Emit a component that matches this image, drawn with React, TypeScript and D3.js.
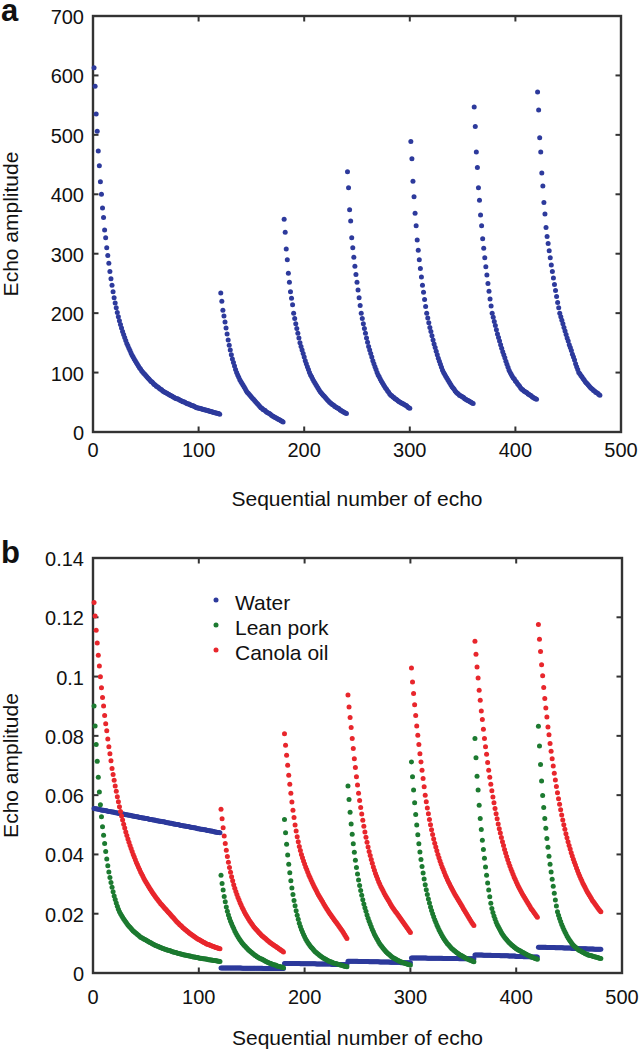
import React from "react";
import * as d3 from "d3";

// ---------- shared ----------
const echoStarts = [1, 121, 181, 241, 301, 361, 421];
const xTicks = [0, 100, 200, 300, 400, 500];
const xTickLabels = ["0", "100", "200", "300", "400", "500"];

// ---------- panel a : echo amplitude ----------
const aYTicks = [0, 100, 200, 300, 400, 500, 600, 700];
const aYTickLabels = ["0", "100", "200", "300", "400", "500", "600", "700"];

const aSeg1 = [
  613, 582, 535, 506, 473, 448, 421, 400, 377, 361,
  340, 327, 310, 297, 284, 270, 258, 247, 236, 226,
  217, 209, 201, 194, 187, 181, 175, 169, 164, 159,
  154, 149, 145, 141, 137, 133, 129, 126, 123, 120,
  117, 114, 111, 108, 106, 103, 101, 99, 97, 95,
  93, 91, 89, 87, 85, 84, 82, 80, 79, 77,
  76, 75, 73, 72, 71, 69, 68, 67, 66, 65,
  64, 63, 62, 61, 60, 59, 58, 57, 56, 56,
  55, 54, 53, 52, 51, 51, 50, 49, 48, 47,
  47, 46, 45, 44, 44, 43, 42, 41, 41, 40,
  40, 39, 39, 38, 38, 37, 37, 36, 36, 35,
  35, 34, 34, 33, 33, 32, 32, 31, 31, 30,
];
const aSeg2 = [234, 220, 205, 195, 185, 175, 165, 155, 146, 138, 130, 123, 117, 111, 105, 100, 96, 92, 88, 85, 82, 79, 76, 73, 70, 67, 65, 63, 61, 59, 57, 55, 53, 51, 49, 47, 45, 43, 41, 40, 38, 37, 36, 34, 33, 32, 31, 30, 28, 27, 26, 25, 24, 23, 22, 21, 20, 19, 18, 17];
const aSeg3 = [358, 336, 308, 290, 267, 252, 236, 225, 214, 200, 191, 182, 174, 166, 158, 150, 144, 138, 132, 126, 120, 115, 110, 105, 100, 96, 93, 89, 86, 83, 80, 77, 74, 71, 68, 66, 64, 62, 60, 58, 56, 54, 52, 50, 49, 47, 46, 45, 43, 42, 41, 40, 39, 37, 36, 35, 34, 33, 32, 31];
const aSeg4 = [438, 411, 374, 355, 327, 310, 294, 279, 265, 252, 239, 226, 213, 200, 191, 182, 174, 166, 158, 151, 144, 138, 132, 126, 120, 115, 110, 105, 100, 96, 93, 89, 86, 83, 80, 77, 74, 72, 69, 67, 64, 62, 61, 59, 58, 56, 55, 54, 52, 51, 50, 49, 48, 47, 46, 45, 44, 42, 41, 40];
const aSeg5 = [489, 460, 422, 396, 368, 347, 323, 306, 290, 275, 261, 247, 235, 223, 211, 200, 192, 184, 176, 169, 162, 155, 148, 142, 136, 130, 124, 119, 114, 109, 104, 100, 97, 94, 91, 88, 85, 82, 79, 76, 74, 72, 69, 67, 65, 64, 62, 61, 60, 59, 58, 56, 55, 54, 53, 52, 51, 50, 49, 48];
const aSeg6 = [547, 514, 471, 445, 411, 390, 365, 347, 325, 309, 293, 278, 264, 250, 237, 224, 212, 200, 193, 186, 179, 172, 165, 159, 153, 147, 141, 135, 130, 125, 119, 114, 109, 104, 100, 97, 94, 91, 89, 86, 84, 81, 79, 77, 74, 72, 71, 69, 68, 67, 66, 64, 63, 62, 61, 59, 58, 57, 56, 55];
const aSeg7 = [572, 542, 495, 471, 436, 414, 386, 367, 344, 329, 317, 305, 293, 281, 270, 259, 248, 238, 228, 218, 209, 200, 194, 188, 182, 176, 170, 164, 158, 153, 147, 142, 137, 131, 126, 121, 115, 110, 105, 100, 98, 95, 93, 90, 88, 85, 83, 81, 79, 77, 75, 73, 72, 70, 69, 67, 66, 65, 63, 62];

// ---------- panel b : three samples ----------
const bYTicks = [0, 0.02, 0.04, 0.06, 0.08, 0.1, 0.12, 0.14];
const bYTickLabels = ["0", "0.02", "0.04", "0.06", "0.08", "0.1", "0.12", "0.14"];
const legendNames = ["Water", "Lean pork", "Canola oil"];

const waterSeg1 = [
  0.0555, 0.0554, 0.0554, 0.0553, 0.0552, 0.0552, 0.0551, 0.0550, 0.0549, 0.0549,
  0.0548, 0.0547, 0.0547, 0.0546, 0.0545, 0.0545, 0.0544, 0.0543, 0.0543, 0.0542,
  0.0541, 0.0541, 0.0540, 0.0539, 0.0538, 0.0538, 0.0537, 0.0536, 0.0536, 0.0535,
  0.0534, 0.0534, 0.0533, 0.0532, 0.0532, 0.0531, 0.0530, 0.0530, 0.0529, 0.0528,
  0.0527, 0.0527, 0.0526, 0.0525, 0.0525, 0.0524, 0.0523, 0.0523, 0.0522, 0.0521,
  0.0521, 0.0520, 0.0519, 0.0518, 0.0518, 0.0517, 0.0516, 0.0516, 0.0515, 0.0514,
  0.0514, 0.0513, 0.0512, 0.0512, 0.0511, 0.0510, 0.0510, 0.0509, 0.0508, 0.0507,
  0.0507, 0.0506, 0.0505, 0.0505, 0.0504, 0.0503, 0.0503, 0.0502, 0.0501, 0.0501,
  0.0500, 0.0499, 0.0498, 0.0498, 0.0497, 0.0496, 0.0496, 0.0495, 0.0494, 0.0494,
  0.0493, 0.0492, 0.0492, 0.0491, 0.0490, 0.0490, 0.0489, 0.0488, 0.0487, 0.0487,
  0.0486, 0.0485, 0.0485, 0.0484, 0.0483, 0.0483, 0.0482, 0.0481, 0.0481, 0.0480,
  0.0479, 0.0479, 0.0478, 0.0477, 0.0476, 0.0476, 0.0475, 0.0474, 0.0474, 0.0473,
];
const waterSeg2 = [
  0.0017, 0.0017, 0.0017, 0.0017, 0.0017, 0.0017, 0.0017, 0.0017, 0.0017, 0.0017,
  0.0017, 0.0017, 0.0017, 0.0017, 0.0017, 0.0017, 0.0017, 0.0017, 0.0017, 0.0017,
  0.0016, 0.0016, 0.0016, 0.0016, 0.0016, 0.0016, 0.0016, 0.0016, 0.0016, 0.0016,
  0.0016, 0.0016, 0.0016, 0.0016, 0.0016, 0.0016, 0.0016, 0.0016, 0.0016, 0.0016,
  0.0015, 0.0015, 0.0015, 0.0015, 0.0015, 0.0015, 0.0015, 0.0015, 0.0015, 0.0015,
  0.0015, 0.0015, 0.0015, 0.0015, 0.0015, 0.0015, 0.0015, 0.0015, 0.0015, 0.0015,
];
const waterSeg3 = [
  0.0032, 0.0032, 0.0032, 0.0032, 0.0032, 0.0032, 0.0032, 0.0032, 0.0032, 0.0032,
  0.0032, 0.0032, 0.0032, 0.0032, 0.0032, 0.0031, 0.0031, 0.0031, 0.0031, 0.0031,
  0.0031, 0.0031, 0.0031, 0.0031, 0.0031, 0.0031, 0.0031, 0.0031, 0.0031, 0.0031,
  0.0030, 0.0030, 0.0030, 0.0030, 0.0030, 0.0030, 0.0030, 0.0030, 0.0030, 0.0030,
  0.0030, 0.0030, 0.0030, 0.0030, 0.0030, 0.0029, 0.0029, 0.0029, 0.0029, 0.0029,
  0.0029, 0.0029, 0.0029, 0.0029, 0.0029, 0.0029, 0.0029, 0.0029, 0.0029, 0.0029,
];
const waterSeg4 = [
  0.0040, 0.0040, 0.0040, 0.0040, 0.0040, 0.0040, 0.0040, 0.0040, 0.0040, 0.0040,
  0.0039, 0.0039, 0.0039, 0.0039, 0.0039, 0.0039, 0.0039, 0.0039, 0.0039, 0.0039,
  0.0038, 0.0038, 0.0038, 0.0038, 0.0038, 0.0038, 0.0038, 0.0038, 0.0038, 0.0038,
  0.0037, 0.0037, 0.0037, 0.0037, 0.0037, 0.0037, 0.0037, 0.0037, 0.0037, 0.0037,
  0.0036, 0.0036, 0.0036, 0.0036, 0.0036, 0.0036, 0.0036, 0.0036, 0.0036, 0.0036,
  0.0035, 0.0035, 0.0035, 0.0035, 0.0035, 0.0035, 0.0035, 0.0035, 0.0035, 0.0035,
];
const waterSeg5 = [
  0.0051, 0.0051, 0.0051, 0.0051, 0.0051, 0.0051, 0.0051, 0.0051, 0.0051, 0.0051,
  0.0051, 0.0051, 0.0051, 0.0051, 0.0051, 0.0050, 0.0050, 0.0050, 0.0050, 0.0050,
  0.0050, 0.0050, 0.0050, 0.0050, 0.0050, 0.0050, 0.0050, 0.0050, 0.0050, 0.0050,
  0.0049, 0.0049, 0.0049, 0.0049, 0.0049, 0.0049, 0.0049, 0.0049, 0.0049, 0.0049,
  0.0049, 0.0049, 0.0049, 0.0049, 0.0049, 0.0048, 0.0048, 0.0048, 0.0048, 0.0048,
  0.0048, 0.0048, 0.0048, 0.0048, 0.0048, 0.0048, 0.0048, 0.0048, 0.0048, 0.0048,
];
const waterSeg6 = [
  0.0061, 0.0061, 0.0061, 0.0061, 0.0061, 0.0061, 0.0061, 0.0061, 0.0060, 0.0060,
  0.0060, 0.0060, 0.0060, 0.0060, 0.0060, 0.0060, 0.0059, 0.0059, 0.0059, 0.0059,
  0.0059, 0.0059, 0.0059, 0.0059, 0.0058, 0.0058, 0.0058, 0.0058, 0.0058, 0.0058,
  0.0058, 0.0058, 0.0057, 0.0057, 0.0057, 0.0057, 0.0057, 0.0057, 0.0057, 0.0056,
  0.0056, 0.0056, 0.0056, 0.0056, 0.0056, 0.0056, 0.0055, 0.0055, 0.0055, 0.0055,
  0.0055, 0.0055, 0.0055, 0.0054, 0.0054, 0.0054, 0.0054, 0.0054, 0.0054, 0.0054,
];
const waterSeg7 = [
  0.0087, 0.0087, 0.0087, 0.0087, 0.0087, 0.0087, 0.0087, 0.0087, 0.0086, 0.0086,
  0.0086, 0.0086, 0.0086, 0.0086, 0.0086, 0.0086, 0.0085, 0.0085, 0.0085, 0.0085,
  0.0085, 0.0085, 0.0085, 0.0085, 0.0084, 0.0084, 0.0084, 0.0084, 0.0084, 0.0084,
  0.0084, 0.0084, 0.0083, 0.0083, 0.0083, 0.0083, 0.0083, 0.0083, 0.0083, 0.0082,
  0.0082, 0.0082, 0.0082, 0.0082, 0.0082, 0.0082, 0.0081, 0.0081, 0.0081, 0.0081,
  0.0081, 0.0081, 0.0081, 0.0080, 0.0080, 0.0080, 0.0080, 0.0080, 0.0080, 0.0080,
];

const porkSeg1 = [
  0.0901, 0.0833, 0.0771, 0.0714, 0.0660, 0.0611, 0.0568, 0.0527, 0.0493, 0.0465,
  0.0437, 0.0410, 0.0385, 0.0362, 0.0341, 0.0322, 0.0305, 0.0289, 0.0274, 0.0260,
  0.0248, 0.0236, 0.0225, 0.0215, 0.0207, 0.0200, 0.0194, 0.0188, 0.0182, 0.0177,
  0.0172, 0.0167, 0.0162, 0.0158, 0.0154, 0.0150, 0.0146, 0.0142, 0.0139, 0.0136,
  0.0133, 0.0130, 0.0127, 0.0124, 0.0121, 0.0119, 0.0117, 0.0115, 0.0113, 0.0111,
  0.0109, 0.0107, 0.0105, 0.0103, 0.0101, 0.0099, 0.0097, 0.0095, 0.0093, 0.0092,
  0.0090, 0.0089, 0.0087, 0.0086, 0.0084, 0.0083, 0.0082, 0.0080, 0.0079, 0.0078,
  0.0077, 0.0076, 0.0075, 0.0073, 0.0072, 0.0071, 0.0070, 0.0069, 0.0068, 0.0067,
  0.0066, 0.0065, 0.0064, 0.0063, 0.0062, 0.0061, 0.0061, 0.0060, 0.0059, 0.0058,
  0.0057, 0.0057, 0.0056, 0.0055, 0.0054, 0.0054, 0.0053, 0.0052, 0.0052, 0.0051,
  0.0050, 0.0050, 0.0049, 0.0048, 0.0048, 0.0047, 0.0047, 0.0046, 0.0045, 0.0045,
  0.0044, 0.0044, 0.0043, 0.0042, 0.0042, 0.0041, 0.0041, 0.0040, 0.0040, 0.0039,
];
const porkSeg2 = [
  0.0330, 0.0302, 0.0280, 0.0258, 0.0240, 0.0223, 0.0208, 0.0196, 0.0185, 0.0175,
  0.0166, 0.0158, 0.0150, 0.0142, 0.0135, 0.0128, 0.0122, 0.0116, 0.0111, 0.0106,
  0.0101, 0.0097, 0.0093, 0.0089, 0.0085, 0.0082, 0.0078, 0.0075, 0.0072, 0.0069,
  0.0066, 0.0063, 0.0060, 0.0058, 0.0055, 0.0053, 0.0051, 0.0049, 0.0047, 0.0046,
  0.0044, 0.0042, 0.0040, 0.0038, 0.0036, 0.0035, 0.0033, 0.0032, 0.0030, 0.0029,
  0.0028, 0.0027, 0.0026, 0.0024, 0.0023, 0.0022, 0.0021, 0.0020, 0.0019, 0.0018,
];
const porkSeg3 = [
  0.0518, 0.0473, 0.0434, 0.0398, 0.0367, 0.0338, 0.0311, 0.0287, 0.0265, 0.0245,
  0.0227, 0.0210, 0.0195, 0.0181, 0.0168, 0.0157, 0.0147, 0.0138, 0.0130, 0.0122,
  0.0115, 0.0109, 0.0103, 0.0098, 0.0093, 0.0088, 0.0084, 0.0080, 0.0076, 0.0072,
  0.0069, 0.0066, 0.0063, 0.0060, 0.0057, 0.0055, 0.0052, 0.0050, 0.0048, 0.0046,
  0.0044, 0.0042, 0.0040, 0.0039, 0.0037, 0.0036, 0.0034, 0.0033, 0.0032, 0.0031,
  0.0030, 0.0029, 0.0028, 0.0027, 0.0026, 0.0025, 0.0024, 0.0023, 0.0022, 0.0021,
];
const porkSeg4 = [
  0.0631, 0.0585, 0.0542, 0.0503, 0.0468, 0.0436, 0.0407, 0.0380, 0.0356, 0.0334,
  0.0314, 0.0295, 0.0278, 0.0262, 0.0247, 0.0233, 0.0220, 0.0208, 0.0196, 0.0185,
  0.0175, 0.0165, 0.0156, 0.0147, 0.0139, 0.0131, 0.0124, 0.0117, 0.0111, 0.0105,
  0.0099, 0.0094, 0.0089, 0.0084, 0.0080, 0.0076, 0.0072, 0.0068, 0.0065, 0.0062,
  0.0059, 0.0056, 0.0053, 0.0051, 0.0049, 0.0047, 0.0045, 0.0043, 0.0041, 0.0039,
  0.0038, 0.0036, 0.0035, 0.0034, 0.0033, 0.0031, 0.0030, 0.0029, 0.0028, 0.0027,
];
const porkSeg5 = [
  0.0712, 0.0662, 0.0617, 0.0574, 0.0535, 0.0499, 0.0466, 0.0436, 0.0408, 0.0383,
  0.0359, 0.0337, 0.0317, 0.0298, 0.0281, 0.0265, 0.0250, 0.0236, 0.0223, 0.0211,
  0.0200, 0.0190, 0.0180, 0.0171, 0.0162, 0.0154, 0.0146, 0.0139, 0.0132, 0.0126,
  0.0120, 0.0114, 0.0109, 0.0104, 0.0099, 0.0095, 0.0091, 0.0087, 0.0083, 0.0080,
  0.0077, 0.0074, 0.0071, 0.0068, 0.0066, 0.0063, 0.0061, 0.0059, 0.0057, 0.0055,
  0.0053, 0.0051, 0.0049, 0.0047, 0.0046, 0.0044, 0.0043, 0.0041, 0.0040, 0.0038,
];
const porkSeg6 = [
  0.0791, 0.0726, 0.0664, 0.0617, 0.0566, 0.0521, 0.0484, 0.0448, 0.0417, 0.0387,
  0.0358, 0.0330, 0.0304, 0.0280, 0.0257, 0.0235, 0.0218, 0.0204, 0.0192, 0.0182,
  0.0172, 0.0164, 0.0157, 0.0150, 0.0143, 0.0137, 0.0131, 0.0126, 0.0121, 0.0116,
  0.0112, 0.0108, 0.0104, 0.0100, 0.0097, 0.0094, 0.0091, 0.0088, 0.0085, 0.0082,
  0.0080, 0.0078, 0.0076, 0.0074, 0.0072, 0.0070, 0.0068, 0.0066, 0.0064, 0.0062,
  0.0060, 0.0058, 0.0057, 0.0055, 0.0054, 0.0052, 0.0051, 0.0049, 0.0048, 0.0046,
];
const porkSeg7 = [
  0.0832, 0.0766, 0.0703, 0.0648, 0.0599, 0.0558, 0.0521, 0.0488, 0.0454, 0.0424,
  0.0394, 0.0367, 0.0341, 0.0316, 0.0293, 0.0269, 0.0246, 0.0226, 0.0207, 0.0195,
  0.0184, 0.0174, 0.0164, 0.0155, 0.0147, 0.0139, 0.0132, 0.0125, 0.0119, 0.0113,
  0.0108, 0.0103, 0.0098, 0.0094, 0.0090, 0.0087, 0.0084, 0.0081, 0.0078, 0.0076,
  0.0074, 0.0072, 0.0070, 0.0068, 0.0066, 0.0064, 0.0063, 0.0061, 0.0060, 0.0059,
  0.0058, 0.0057, 0.0056, 0.0055, 0.0054, 0.0053, 0.0052, 0.0051, 0.0050, 0.0049,
];

const oilSeg1 = [
  0.1250, 0.1204, 0.1156, 0.1113, 0.1072, 0.1036, 0.0999, 0.0962, 0.0929, 0.0901,
  0.0869, 0.0841, 0.0817, 0.0789, 0.0763, 0.0740, 0.0716, 0.0690, 0.0670, 0.0650,
  0.0631, 0.0613, 0.0595, 0.0578, 0.0561, 0.0545, 0.0530, 0.0516, 0.0502, 0.0489,
  0.0476, 0.0464, 0.0452, 0.0441, 0.0430, 0.0420, 0.0410, 0.0400, 0.0391, 0.0382,
  0.0373, 0.0365, 0.0357, 0.0349, 0.0341, 0.0334, 0.0327, 0.0320, 0.0313, 0.0307,
  0.0301, 0.0295, 0.0289, 0.0283, 0.0278, 0.0272, 0.0267, 0.0262, 0.0257, 0.0252,
  0.0248, 0.0243, 0.0239, 0.0234, 0.0230, 0.0226, 0.0222, 0.0218, 0.0214, 0.0210,
  0.0206, 0.0202, 0.0198, 0.0194, 0.0190, 0.0186, 0.0182, 0.0178, 0.0174, 0.0170,
  0.0167, 0.0163, 0.0160, 0.0157, 0.0153, 0.0150, 0.0147, 0.0144, 0.0141, 0.0138,
  0.0135, 0.0132, 0.0130, 0.0127, 0.0125, 0.0122, 0.0120, 0.0117, 0.0115, 0.0113,
  0.0111, 0.0109, 0.0107, 0.0105, 0.0103, 0.0101, 0.0099, 0.0097, 0.0096, 0.0095,
  0.0093, 0.0092, 0.0090, 0.0089, 0.0088, 0.0086, 0.0085, 0.0084, 0.0083, 0.0082,
];
const oilSeg2 = [
  0.0552, 0.0520, 0.0490, 0.0462, 0.0437, 0.0414, 0.0393, 0.0374, 0.0356, 0.0340,
  0.0325, 0.0311, 0.0298, 0.0286, 0.0275, 0.0265, 0.0255, 0.0246, 0.0237, 0.0229,
  0.0221, 0.0214, 0.0207, 0.0200, 0.0194, 0.0188, 0.0182, 0.0176, 0.0171, 0.0166,
  0.0161, 0.0156, 0.0152, 0.0148, 0.0144, 0.0140, 0.0136, 0.0132, 0.0128, 0.0125,
  0.0122, 0.0119, 0.0116, 0.0113, 0.0110, 0.0107, 0.0104, 0.0101, 0.0099, 0.0096,
  0.0094, 0.0091, 0.0089, 0.0086, 0.0084, 0.0081, 0.0079, 0.0076, 0.0074, 0.0071,
];
const oilSeg3 = [
  0.0807, 0.0768, 0.0735, 0.0701, 0.0667, 0.0637, 0.0606, 0.0577, 0.0549, 0.0525,
  0.0499, 0.0479, 0.0460, 0.0443, 0.0427, 0.0413, 0.0400, 0.0389, 0.0378, 0.0368,
  0.0358, 0.0349, 0.0340, 0.0331, 0.0323, 0.0315, 0.0307, 0.0299, 0.0292, 0.0285,
  0.0278, 0.0271, 0.0264, 0.0258, 0.0252, 0.0246, 0.0240, 0.0234, 0.0228, 0.0222,
  0.0216, 0.0211, 0.0205, 0.0200, 0.0195, 0.0190, 0.0185, 0.0180, 0.0175, 0.0170,
  0.0165, 0.0160, 0.0155, 0.0150, 0.0145, 0.0140, 0.0134, 0.0128, 0.0122, 0.0116,
];
const oilSeg4 = [
  0.0938, 0.0897, 0.0862, 0.0828, 0.0791, 0.0757, 0.0723, 0.0693, 0.0662, 0.0634,
  0.0606, 0.0582, 0.0558, 0.0536, 0.0515, 0.0495, 0.0476, 0.0458, 0.0441, 0.0425,
  0.0410, 0.0396, 0.0383, 0.0370, 0.0358, 0.0347, 0.0336, 0.0326, 0.0317, 0.0308,
  0.0300, 0.0292, 0.0285, 0.0278, 0.0271, 0.0264, 0.0258, 0.0252, 0.0246, 0.0240,
  0.0234, 0.0228, 0.0222, 0.0217, 0.0212, 0.0207, 0.0202, 0.0197, 0.0192, 0.0187,
  0.0182, 0.0177, 0.0172, 0.0167, 0.0162, 0.0157, 0.0152, 0.0147, 0.0142, 0.0137,
];
const oilSeg5 = [
  0.1029, 0.0982, 0.0943, 0.0905, 0.0869, 0.0833, 0.0802, 0.0771, 0.0740, 0.0712,
  0.0684, 0.0656, 0.0628, 0.0600, 0.0578, 0.0557, 0.0537, 0.0518, 0.0500, 0.0483,
  0.0467, 0.0452, 0.0438, 0.0425, 0.0412, 0.0400, 0.0389, 0.0378, 0.0368, 0.0358,
  0.0349, 0.0340, 0.0331, 0.0323, 0.0315, 0.0307, 0.0300, 0.0293, 0.0286, 0.0279,
  0.0272, 0.0266, 0.0260, 0.0254, 0.0248, 0.0242, 0.0236, 0.0230, 0.0224, 0.0218,
  0.0212, 0.0206, 0.0200, 0.0194, 0.0188, 0.0182, 0.0176, 0.0170, 0.0165, 0.0160,
];
const oilSeg6 = [
  0.1119, 0.1075, 0.1032, 0.0995, 0.0954, 0.0920, 0.0884, 0.0855, 0.0822, 0.0791,
  0.0763, 0.0738, 0.0710, 0.0684, 0.0660, 0.0637, 0.0615, 0.0594, 0.0574, 0.0555,
  0.0537, 0.0520, 0.0503, 0.0487, 0.0472, 0.0457, 0.0443, 0.0430, 0.0417, 0.0405,
  0.0393, 0.0382, 0.0371, 0.0361, 0.0351, 0.0342, 0.0333, 0.0324, 0.0316, 0.0308,
  0.0300, 0.0293, 0.0286, 0.0279, 0.0272, 0.0266, 0.0260, 0.0254, 0.0248, 0.0242,
  0.0236, 0.0230, 0.0224, 0.0218, 0.0213, 0.0208, 0.0203, 0.0198, 0.0193, 0.0188,
];
const oilSeg7 = [
  0.1176, 0.1126, 0.1085, 0.1040, 0.1003, 0.0963, 0.0926, 0.0894, 0.0864, 0.0830,
  0.0804, 0.0774, 0.0748, 0.0723, 0.0698, 0.0674, 0.0651, 0.0629, 0.0608, 0.0588,
  0.0569, 0.0551, 0.0533, 0.0516, 0.0500, 0.0485, 0.0470, 0.0456, 0.0443, 0.0430,
  0.0418, 0.0406, 0.0395, 0.0384, 0.0374, 0.0364, 0.0354, 0.0345, 0.0336, 0.0327,
  0.0319, 0.0311, 0.0303, 0.0296, 0.0289, 0.0282, 0.0275, 0.0269, 0.0263, 0.0257,
  0.0251, 0.0245, 0.0240, 0.0235, 0.0230, 0.0225, 0.0220, 0.0215, 0.0211, 0.0207,
];

// ---------- styling ----------
const FONT = "'Liberation Sans', Arial, Helvetica, sans-serif";
const BLUE = "#2d3a9c";
const GREEN = "#1c7a30";
const RED = "#e8262c";
const AXIS = "#333333";

type Series = { name: string; color: string; segs: number[][] };

const aSeries: Series[] = [
  { name: "Echo", color: BLUE, segs: [aSeg1, aSeg2, aSeg3, aSeg4, aSeg5, aSeg6, aSeg7] },
];
const bSeries: Series[] = [
  { name: legendNames[0], color: BLUE, segs: [waterSeg1, waterSeg2, waterSeg3, waterSeg4, waterSeg5, waterSeg6, waterSeg7] },
  { name: legendNames[1], color: GREEN, segs: [porkSeg1, porkSeg2, porkSeg3, porkSeg4, porkSeg5, porkSeg6, porkSeg7] },
  { name: legendNames[2], color: RED, segs: [oilSeg1, oilSeg2, oilSeg3, oilSeg4, oilSeg5, oilSeg6, oilSeg7] },
];

function toPoints(segs: number[][]) {
  return segs.flatMap((seg, s) => seg.map((v, i) => ({ x: echoStarts[s] + i, y: v })));
}

type PanelProps = {
  left: number;
  right: number;
  top: number;
  bottom: number;
  yMax: number;
  yTicks: number[];
  yTickLabels: string[];
  series: Series[];
  letter: string;
  letterY: number;
  xTickBaseline: number;
  titleBaseline: number;
  legend?: { x: number; y: number; dy: number };
};

function Panel(p: PanelProps) {
  const x = d3.scaleLinear().domain([0, 500]).range([p.left, p.right]);
  const y = d3.scaleLinear().domain([0, p.yMax]).range([p.bottom, p.top]);
  const tl = 5.5;
  const innerX = xTicks.filter((t) => t > 0 && t < 500);
  const innerY = p.yTicks.filter((t) => t > 0 && t < p.yMax);
  return (
    <g>
      <text x={1} y={p.letterY} fontSize={31} fontWeight="bold" fontFamily={FONT} fill="#111">
        {p.letter}
      </text>
      <rect
        x={p.left}
        y={p.top}
        width={p.right - p.left}
        height={p.bottom - p.top}
        fill="none"
        stroke={AXIS}
        strokeWidth={2.4}
      />
      {innerX.map((t) => (
        <g key={"xt" + t} stroke={AXIS} strokeWidth={2}>
          <line x1={x(t)} x2={x(t)} y1={p.bottom} y2={p.bottom - tl} />
          <line x1={x(t)} x2={x(t)} y1={p.top} y2={p.top + tl} />
        </g>
      ))}
      {innerY.map((t) => (
        <g key={"yt" + t} stroke={AXIS} strokeWidth={2}>
          <line x1={p.left} x2={p.left + tl} y1={y(t)} y2={y(t)} />
          <line x1={p.right} x2={p.right - tl} y1={y(t)} y2={y(t)} />
        </g>
      ))}
      {p.series.map((s) => (
        <g key={s.name} fill={s.color}>
          {toPoints(s.segs).map((d, i) => (
            <circle key={i} cx={x(d.x)} cy={y(d.y)} r={2.5} />
          ))}
        </g>
      ))}
      <g fontFamily={FONT} fontSize={20} fill="#111">
        {xTicks.map((t, i) => (
          <text key={"xl" + t} x={x(t)} y={p.xTickBaseline} textAnchor="middle">
            {xTickLabels[i]}
          </text>
        ))}
        {p.yTicks.map((t, i) => (
          <text key={"yl" + t} x={p.left - 9} y={y(t) + 8} textAnchor="end">
            {p.yTickLabels[i]}
          </text>
        ))}
      </g>
      <text
        x={(p.left + p.right) / 2}
        y={p.titleBaseline}
        textAnchor="middle"
        fontFamily={FONT}
        fontSize={21}
        fill="#111"
      >
        Sequential number of echo
      </text>
      <text
        transform={`translate(18, ${(p.top + p.bottom) / 2}) rotate(-90)`}
        textAnchor="middle"
        fontFamily={FONT}
        fontSize={21}
        fill="#111"
      >
        Echo amplitude
      </text>
      {p.legend &&
        p.series.map((s, i) => (
          <g key={"lg" + s.name}>
            <circle cx={p.legend!.x} cy={p.legend!.y + i * p.legend!.dy - 3} r={2.5} fill={s.color} />
            <text
              x={p.legend!.x + 19}
              y={p.legend!.y + i * p.legend!.dy + 7}
              fontFamily={FONT}
              fontSize={21}
              fill="#111"
            >
              {s.name}
            </text>
          </g>
        ))}
    </g>
  );
}

export default function App() {
  return (
    <svg
      width={639}
      height={1050}
      viewBox="0 0 639 1050"
      style={{ position: "absolute", left: 0, top: 0, background: "#fff" }}
    >
      <rect x={0} y={0} width={639} height={1050} fill="#fff" />
      <Panel
        left={93}
        right={621}
        top={16}
        bottom={432}
        yMax={700}
        yTicks={aYTicks}
        yTickLabels={aYTickLabels}
        series={aSeries}
        letter="a"
        letterY={21}
        xTickBaseline={457}
        titleBaseline={506}
      />
      <Panel
        left={93}
        right={622}
        top={558}
        bottom={973}
        yMax={0.14}
        yTicks={bYTicks}
        yTickLabels={bYTickLabels}
        series={bSeries}
        letter="b"
        letterY={563}
        xTickBaseline={1004}
        titleBaseline={1045}
        legend={{ x: 216, y: 603, dy: 25 }}
      />
    </svg>
  );
}
